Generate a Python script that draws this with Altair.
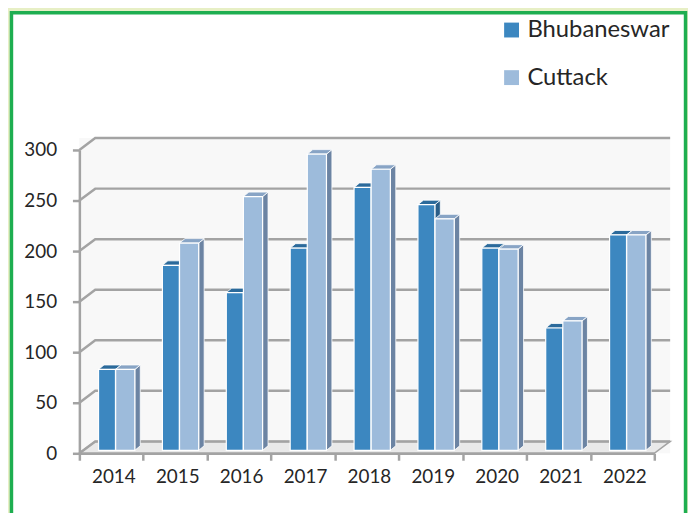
import altair as alt
import pandas as pd

# ---- data ----
years = ["2014", "2015", "2016", "2017", "2018", "2019", "2020", "2021", "2022"]
bhubaneswar = [80, 183, 156, 200, 260, 243, 200, 121, 213]
cuttack = [80, 205, 251, 293, 278, 229, 199, 128, 213]
series = ["Bhubaneswar", "Cuttack"]
y_ticks = [0, 50, 100, 150, 200, 250, 300]

# ---- style constants ----
FONT = "Lato"
TXT = "#262626"
GRAY = "#a3a3a3"
W, H = 580, 306
N = len(years)
XU = W / N          # px per category unit
YU = H / 300.0      # px per value unit
WALL_DX = 16 / XU
WALL_DY = 12 / YU
BAR_DX = 5.5 / XU
BAR_DY = 4.5 / YU
LIFT = 3 / YU
slots = {"Bhubaneswar": (0.30, 0.565), "Cuttack": (0.568, 0.868)}
front_col = {"Bhubaneswar": "#3c87c0", "Cuttack": "#9dbbdb"}
top_col = {"Bhubaneswar": "#2b6a9b", "Cuttack": "#88a4c5"}
side_col = {"Bhubaneswar": "#2a5e88", "Cuttack": "#6c84a3"}

values = {"Bhubaneswar": bhubaneswar, "Cuttack": cuttack}

fronts, tops, sides = [], [], []
for s in series:
    for i, (yr, v) in enumerate(zip(years, values[s])):
        x0, x1 = i + slots[s][0], i + slots[s][1]
        bid = f"{s}-{yr}"
        fronts.append(dict(year=yr, series=s, value=v, x0=x0, x1=x1, y0=LIFT, y1=v + LIFT))
        tops.append(dict(bar=bid, yy=v + LIFT, xa=x0, xb=x1, c=top_col[s]))
        tops.append(dict(bar=bid, yy=v + LIFT + BAR_DY, xa=x0 + BAR_DX, xb=x1 + BAR_DX, c=top_col[s]))
        sides.append(dict(bar=bid, xx=x1, ya=LIFT, yb=v + LIFT, c=side_col[s]))
        sides.append(dict(bar=bid, xx=x1 + BAR_DX, ya=LIFT + BAR_DY, yb=v + LIFT + BAR_DY, c=side_col[s]))

fronts = pd.DataFrame(fronts)
tops = pd.DataFrame(tops)
sides = pd.DataFrame(sides)

grid = []
for t in y_ticks:
    grid.append(dict(v=t, k=0, gx=0, gy=t))
    grid.append(dict(v=t, k=1, gx=WALL_DX, gy=t + WALL_DY))
    grid.append(dict(v=t, k=2, gx=N + WALL_DX, gy=t + WALL_DY))
grid = pd.DataFrame(grid)

floor = pd.DataFrame([
    dict(yy=0, xa=0, xb=N),
    dict(yy=WALL_DY, xa=WALL_DX, xb=N + WALL_DX),
])
wall_df = pd.DataFrame([dict(wx0=0, wx1=N + WALL_DX, wy0=0, wy1=300 + WALL_DY)])

labels = pd.DataFrame(dict(year=years, lx=[i + 0.54 for i in range(N)]))

xs = alt.Scale(domain=[0, N], nice=False, zero=False)
ys = alt.Scale(domain=[0, 300], nice=False, zero=False)

AX = alt.Axis(values=list(range(N + 1)), labels=False, title=None, grid=False,
              tickSize=7, tickWidth=2.5, tickColor=GRAY, domainColor=GRAY,
              domainWidth=2.5, zindex=1)
AY = alt.Axis(values=y_ticks, title=None, grid=False, tickSize=7, tickWidth=2.5,
              tickColor=GRAY, domainColor=GRAY, domainWidth=2.5, labelPadding=16,
              labelFont=FONT, labelFontSize=19, labelColor=TXT, zindex=1)


def X(f):
    return alt.X(f, scale=xs, axis=AX)


def Y(f):
    return alt.Y(f, scale=ys, axis=AY)


panel = alt.Chart(pd.DataFrame({"a": [0]})).mark_rect(
    fill="white", stroke="#1eae50", strokeWidth=3.5
).encode(x=alt.value(-68.5), x2=alt.value(611.5), y=alt.value(-138.5), y2=alt.value(430))

wall = alt.Chart(wall_df).mark_rect(fill="#f8f8f8").encode(
    x=X("wx0:Q"), x2="wx1:Q", y=Y("wy0:Q"), y2="wy1:Q",
)

floor_l = alt.Chart(floor).mark_area(
    orient="horizontal", fill="#e9e9e9", stroke=GRAY, strokeWidth=1.5
).encode(y=Y("yy:Q"), x=X("xa:Q"), x2="xb:Q")

grid_l = alt.Chart(grid).mark_line(color=GRAY, strokeWidth=2.5).encode(
    x=X("gx:Q"), y=Y("gy:Q"), detail="v:N", order="k:Q",
)

side_l = alt.Chart(sides).mark_area(stroke="white", strokeWidth=0.8).encode(
    x=X("xx:Q"), y=Y("ya:Q"), y2="yb:Q", detail="bar:N",
    fill=alt.Fill("c:N", scale=None),
)

top_l = alt.Chart(tops).mark_area(orient="horizontal", stroke="white", strokeWidth=0.8).encode(
    y=Y("yy:Q"), x=X("xa:Q"), x2="xb:Q", detail="bar:N",
    fill=alt.Fill("c:N", scale=None),
)

front_l = alt.Chart(fronts).mark_rect(stroke="white", strokeWidth=1.2).encode(
    x=X("x0:Q"), x2="x1:Q", y=Y("y0:Q"), y2="y1:Q",
    color=alt.Color("series:N", scale=alt.Scale(domain=series, range=[front_col[s] for s in series]),
                    legend=alt.Legend(title=None, orient="none", legendX=424, legendY=-133,
                                      symbolType="square", symbolSize=225, symbolStrokeWidth=0,
                                      labelFont=FONT, labelFontSize=24, labelColor=TXT,
                                      rowPadding=24, labelOffset=4, padding=0, zindex=1)),
    tooltip=["year:N", "series:N", "value:Q"],
)

text_l = alt.Chart(labels).mark_text(font=FONT, fontSize=19, color=TXT, baseline="middle").encode(
    x=X("lx:Q"),
    y=alt.value(330),
    text="year:N",
)

chart = alt.layer(panel, wall, floor_l, grid_l, side_l, top_l, front_l, text_l).properties(
    width=W, height=H,
    autosize=alt.AutoSizeParams(type="none"),
    padding={"left": 72, "top": 141, "right": 34, "bottom": 58},
).configure(background="#e7efc5").configure_view(strokeWidth=0)

chart.save("out.html", embed_options={"renderer": "svg", "actions": False})
